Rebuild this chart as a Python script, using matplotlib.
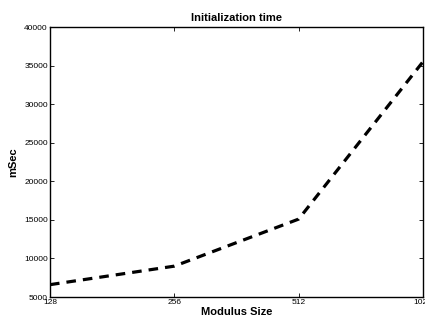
import matplotlib
matplotlib.use("Agg")
import matplotlib.pyplot as plt

modulus = [128, 256, 512, 1024]
msec = [6600, 9000, 15100, 35500]
xticklabels = ["128", "256", "512", "1024"]
yticks = [5000, 10000, 15000, 20000, 25000, 30000, 35000, 40000]

plt.rcParams['font.family'] = ['Liberation Sans', 'DejaVu Sans']

fig = plt.figure(figsize=(4.25, 3.2), dpi=100)
ax = fig.add_axes([50/425, 1-297/320, (423-50)/425, (297-27)/320])
ax.plot(modulus, msec, color='black', linestyle=(0, (3, 2.2)), linewidth=2.3)
ax.set_xscale('log', base=2)
ax.set_xlim(128, 1024)
ax.set_ylim(5000, 40000)
ax.set_xticks(modulus)
ax.set_xticklabels(xticklabels)
ax.minorticks_off()
ax.set_yticks(yticks)
ax.set_yticklabels([str(v) for v in yticks])
ax.tick_params(direction='in', top=True, right=True, labelsize=6, length=3, width=0.6, pad=1.5)
for s in ax.spines.values():
    s.set_linewidth(1.0)
ax.set_title('Initialization time', fontsize=8, fontweight='bold', pad=4)
ax.set_xlabel('Modulus Size', fontsize=8, fontweight='bold', labelpad=1)
ax.set_ylabel('mSec', fontsize=8, fontweight='bold', labelpad=4)
fig.savefig('out.png', dpi=100)
